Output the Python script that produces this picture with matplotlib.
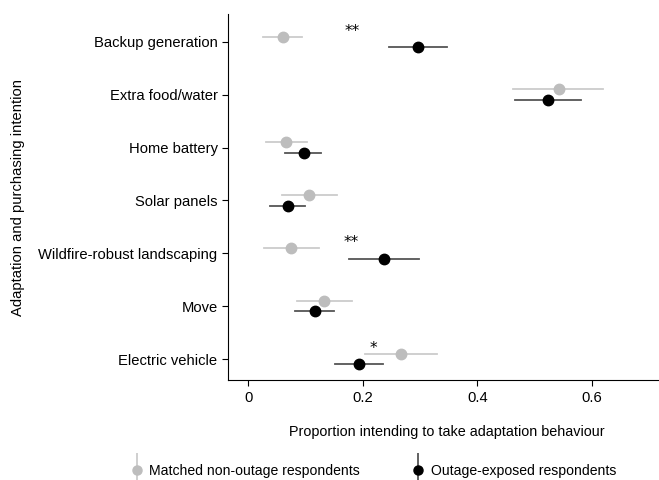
import matplotlib.pyplot as plt
from matplotlib.legend_handler import HandlerErrorbar

plt.rcParams['font.family'] = ['Liberation Sans', 'DejaVu Sans']

# Behaviours, top to bottom
behaviours = ['Backup generation', 'Extra food/water', 'Home battery', 'Solar panels',
              'Wildfire-robust landscaping', 'Move', 'Electric vehicle']

# Matched non-outage respondents: estimate, lower CI, upper CI
matched = [0.061, 0.542, 0.067, 0.106, 0.075, 0.133, 0.267]
matched_lo = [0.026, 0.463, 0.031, 0.059, 0.027, 0.086, 0.204]
matched_hi = [0.095, 0.620, 0.102, 0.155, 0.123, 0.181, 0.330]

# Outage-exposed respondents
exposed = [0.296, 0.524, 0.097, 0.069, 0.238, 0.116, 0.193]
exposed_lo = [0.246, 0.466, 0.065, 0.038, 0.177, 0.082, 0.151]
exposed_hi = [0.348, 0.581, 0.128, 0.099, 0.299, 0.150, 0.235]

# significance markers: (row, x, label)
stars = [(0, 0.181, '**'), (4, 0.180, '**'), (6, 0.219, '*')]

gray_pt = '#bdbdbd'
gray_ci = '#cccccc'
black_ci = '#555555'

fig = plt.figure(figsize=(6.59, 4.8), dpi=100)
ax = fig.add_axes([0.346, 0.208, 0.652, 0.763])

off = 0.1
ys = list(range(len(behaviours)))
for i in ys:
    ax.plot([matched_lo[i], matched_hi[i]], [i - off, i - off], color=gray_ci, lw=1.3, zorder=1)
    ax.plot(matched[i], i - off, 'o', color=gray_pt, ms=7.5, zorder=2)
    ax.plot([exposed_lo[i], exposed_hi[i]], [i + off, i + off], color=black_ci, lw=1.3, zorder=1)
    ax.plot(exposed[i], i + off, 'o', color='black', ms=7.5, zorder=3)

for row, x, lab in stars:
    ax.text(x, row - 0.2, lab, ha='center', va='center', fontsize=11, family='DejaVu Sans')

fs = 10.6
ax.set_yticks(ys)
ax.set_yticklabels(behaviours, fontsize=fs)
ax.set_ylim(6.4, -0.53)
ax.set_xlim(-0.035, 0.715)
ax.set_xticks([0, 0.2, 0.4, 0.6])
ax.set_xticklabels(['0', '0.2', '0.4', '0.6'], fontsize=fs)
ax.tick_params(length=4, width=0.8)
ax.spines['top'].set_visible(False)
ax.spines['right'].set_visible(False)
ax.set_xlabel('Proportion intending to take adaptation behaviour', fontsize=10.4, labelpad=13)
ax.xaxis.set_label_coords(0.51, -0.122)
ax.set_ylabel('Adaptation and purchasing intention', fontsize=fs, labelpad=10)

# legend handles with vertical error bars
h1 = ax.errorbar([float('nan')], [float('nan')], yerr=[1], fmt='o', color=gray_pt,
                 ecolor=gray_ci, ms=6.5, elinewidth=1.3, capsize=0)
h2 = ax.errorbar([float('nan')], [float('nan')], yerr=[1], fmt='o', color='black',
                 ecolor=black_ci, ms=6.5, elinewidth=1.3, capsize=0)
fig.legend([h1, h2], ['Matched non-outage respondents', 'Outage-exposed respondents'],
           loc='center', bbox_to_anchor=(0.567, 0.019), ncol=2, frameon=False,
           fontsize=10.1, handletextpad=0.5, columnspacing=3.75, handlelength=0.8,
           handler_map={type(h1): HandlerErrorbar(yerr_size=1.2)})

fig.savefig('out.png', dpi=100)
